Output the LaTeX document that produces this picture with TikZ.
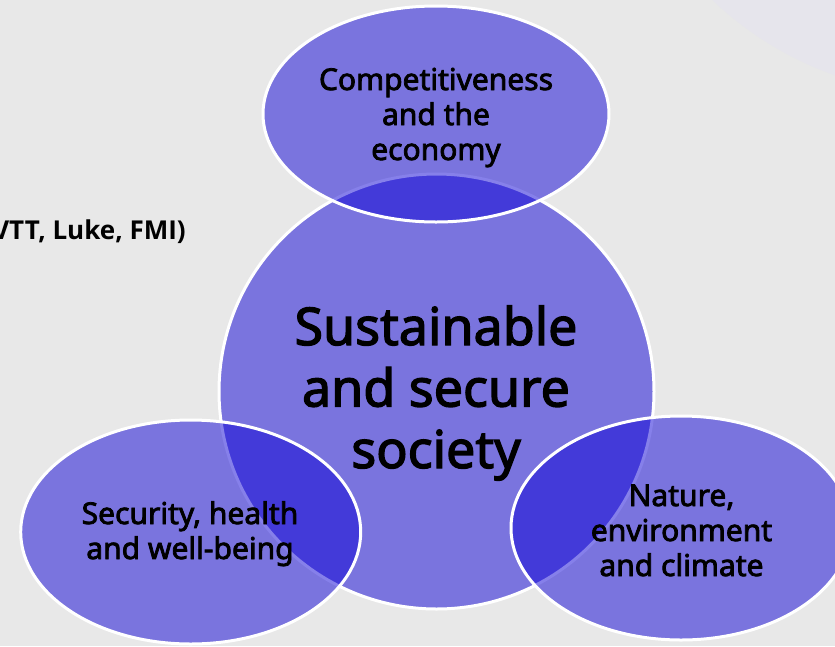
\documentclass[tikz,border=0pt]{standalone}
\usepackage{fontspec}
\setmainfont{Noto Sans}
\newfontfamily\semib[FakeBold=2.5]{Noto Sans}
\newfontfamily\semic[FakeBold=2.6]{Noto Sans}
\newfontfamily\opens{Open Sans}
\definecolor{bgc}{RGB}{232,232,232}
\definecolor{lav}{RGB}{230,229,236}
\definecolor{vfill}{RGB}{14,2,214}
\renewcommand\arraystretch{1}
\setlength\tabcolsep{0pt}
\tikzset{
  blob/.style={fill=vfill, fill opacity=0.5, draw=white, draw opacity=1, line width=3},
  lab/.style={anchor=base, inner sep=0pt, text=black},
  small/.style={lab, font=\semic\fontsize{30}{35}\selectfont},
}
\begin{document}
\begin{tikzpicture}[x=1pt,y=-1pt]
\useasboundingbox (0,0) rectangle (835,646);
\clip (0,0) rectangle (835,646);
\fill[bgc] (0,0) rectangle (835,646);
\fill[lav] (950,-250) circle [radius=345];
% shapes
\path[blob] (436.5,391.5) circle [radius=217.5];
\path[blob] (436,114) ellipse [x radius=173, y radius=108];
\path[blob] (190.7,532) ellipse [x radius=170, y radius=112];
\path[blob] (681,528) ellipse [x radius=170, y radius=112];
% texts
\node[lab, font=\semib\fontsize{52}{61.5}\selectfont] (soc) at (436,345) {\begin{tabular}[t]{c}Sustainable\\and secure\\society\end{tabular}};
\node[small] (eco) at (436,90) {\begin{tabular}[t]{c}Competitiveness\\and the\\economy\end{tabular}};
\node[small] (sec) at (190,524) {\begin{tabular}[t]{c}Security, health\\and well-being\end{tabular}};
\node[small] (nat) at (681.5,506) {\begin{tabular}[t]{c}Nature,\\environment\\and climate\end{tabular}};
\node[lab, anchor=base east, font=\opens\bfseries\fontsize{26}{30}\selectfont] (vtt) at (186,239) {VTT, Luke, FMI)};
\end{tikzpicture}
\end{document}
